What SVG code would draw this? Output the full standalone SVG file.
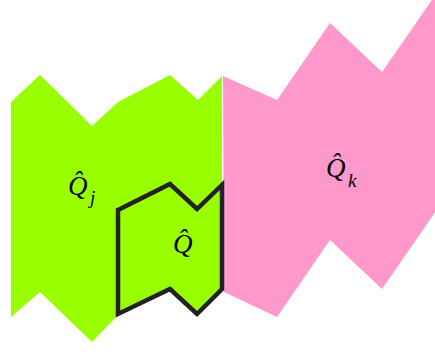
<svg xmlns="http://www.w3.org/2000/svg" width="435" height="352" viewBox="0 0 435 352">
<style>
.lbl{font-family:"Liberation Serif","Times New Roman",serif;font-style:italic;fill:#000;}
.main{font-size:27px;}
.sub{font-size:19px;}
</style>
<rect width="435" height="352" fill="#ffffff"/>
<g id="Qj">
<polygon points="11,102 40,75 92,126 118,102 170,75 198,100 222,76 222,290 198,315 170,289 118,315 92,342 40,292 11,317" fill="#99ff00"/>
<text class="lbl main" x="68" y="195">Q&#x302;</text>
<text class="lbl sub" x="90" y="204">j</text>
</g>
<g id="Qk">
<polygon points="223,76 277,100 330,23 382,72 445,-19 445,198 382,289 330,240 277,317 224,292" fill="#ff99cc"/>
<text class="lbl main" x="326" y="177">Q&#x302;</text>
<text class="lbl sub" x="348" y="187">k</text>
</g>
<g id="Q">
<polygon points="118,210 170,184 197,209 222,185 222,289 197,314 170,289 118,314" fill="none" stroke="#222222" stroke-width="4.5" stroke-linejoin="miter"/>
<text class="lbl main" x="173" y="253">Q&#x302;</text>
</g>
</svg>
